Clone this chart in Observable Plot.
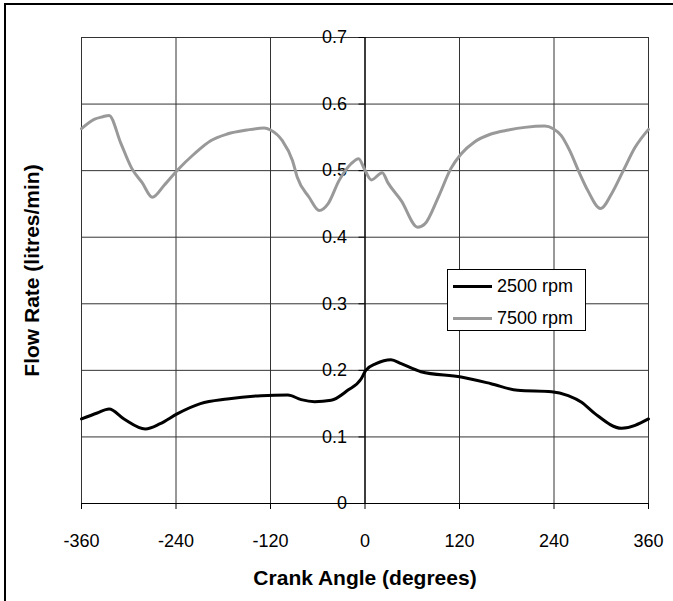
<!DOCTYPE html>
<html>
<head>
<meta charset="utf-8">
<script src="https://cdn.jsdelivr.net/npm/d3@7"></script>
<script src="https://cdn.jsdelivr.net/npm/@observablehq/plot@0.6"></script>
<style>
  html, body { margin: 0; padding: 0; background: #fff; }
  #wrap { position: relative; width: 673px; height: 601px; font-family: "Liberation Sans", Arial, sans-serif; }
  #border { position: absolute; left: 4px; top: 3px; width: 669px; height: 598px; border-top: 2px solid #000; border-left: 2px solid #000; box-sizing: border-box; pointer-events: none; }
  #legend { position: absolute; left: 447px; top: 269px; width: 139px; height: 62px; border: 1px solid #000; box-sizing: border-box; background: #fff; }
  #legend .row { position: absolute; left: 5px; height: 20px; display: flex; align-items: center; font-size: 18px; color: #000; white-space: nowrap; }
  #legend .sw { width: 39px; height: 3px; margin-right: 5px; }
</style>
</head>
<body>
<div id="wrap"><div id="border"></div></div>
<script>
// Data
const seriesNames = ["2500 rpm", "7500 rpm"];
const seriesColors = ["#000000", "#999999"];
const xTicks = [-360, -240, -120, 0, 120, 240, 360];
const yTicks = [0, 0.1, 0.2, 0.3, 0.4, 0.5, 0.6, 0.7];
const yTickLabels = ["0", "0.1", "0.2", "0.3", "0.4", "0.5", "0.6", "0.7"];

const angle2500 = [-360, -340, -325, -306, -279, -260, -238, -209, -175, -132, -98, -81, -64, -43, -22, -5, 1, 14, 33, 46, 71, 122, 160, 194, 237, 258, 275, 292, 326, 360];
const flow2500  = [0.127, 0.136, 0.142, 0.127, 0.112, 0.120, 0.135, 0.150, 0.157, 0.162, 0.163, 0.156, 0.153, 0.155, 0.170, 0.187, 0.200, 0.210, 0.216, 0.210, 0.198, 0.190, 0.180, 0.170, 0.168, 0.162, 0.152, 0.135, 0.113, 0.127];

const angle7500 = [-360, -344, -333, -325, -310, -296, -283, -270, -255, -238, -217, -196, -175, -150, -128, -120, -105, -92, -86, -71, -58, -47, -33, -18, -8, -1, 8, 22, 29, 46, 67, 76, 93, 109, 122, 139, 160, 182, 203, 228, 239, 249, 260, 271, 283, 299, 313, 328, 343, 360];
const flow7500  = [0.563, 0.577, 0.581, 0.583, 0.541, 0.503, 0.482, 0.460, 0.478, 0.501, 0.525, 0.545, 0.555, 0.561, 0.564, 0.561, 0.545, 0.515, 0.490, 0.460, 0.440, 0.450, 0.485, 0.510, 0.518, 0.503, 0.486, 0.497, 0.482, 0.455, 0.415, 0.420, 0.460, 0.503, 0.525, 0.543, 0.555, 0.561, 0.565, 0.567, 0.563, 0.553, 0.530, 0.500, 0.470, 0.443, 0.465, 0.500, 0.535, 0.562];

const d2500 = angle2500.map((a, i) => ({angle: a, flow: flow2500[i]}));
const d7500 = angle7500.map((a, i) => ({angle: a, flow: flow7500[i]}));

const chart = Plot.plot({
  width: 673,
  height: 601,
  marginLeft: 81,
  marginRight: 25,
  marginTop: 37,
  marginBottom: 98,
  style: { fontFamily: "Liberation Sans, Arial, sans-serif", background: "transparent", overflow: "visible" },
  x: { domain: [-360, 360], axis: null },
  y: { domain: [0, 0.7], axis: null },
  marks: [
    Plot.ruleX(xTicks, { stroke: "#333", strokeWidth: 1 }),
    Plot.ruleY(yTicks, { stroke: "#333", strokeWidth: 1 }),
    // y axis at x = 0
    Plot.ruleX([0], { stroke: "#000", strokeWidth: 1.2 }),
    Plot.ruleY(yTicks, { x1: 0, x2: 0, insetLeft: -6, stroke: "#000", strokeWidth: 1 }),
    Plot.text(yTicks, { x: 0, y: d => d, text: (d, i) => yTickLabels[i], textAnchor: "end", lineAnchor: "middle", dx: -18, fontSize: 18, fill: "#000" }),
    // x axis at y = 0
    Plot.ruleY([0], { stroke: "#000", strokeWidth: 1.2 }),
    Plot.ruleX(xTicks, { y1: 0, y2: 0, insetBottom: -6, stroke: "#000", strokeWidth: 1 }),
    Plot.text(xTicks, { x: d => d, frameAnchor: "bottom", textAnchor: "middle", lineAnchor: "middle", dy: 38, text: d => String(d), fontSize: 18, fill: "#000" }),
    // series
    Plot.line(d7500, { x: "angle", y: "flow", stroke: seriesColors[1], strokeWidth: 3, curve: "monotone-x" }),
    Plot.line(d2500, { x: "angle", y: "flow", stroke: seriesColors[0], strokeWidth: 3, curve: "monotone-x" }),
    // titles
    Plot.text(["Crank Angle (degrees)"], { frameAnchor: "bottom", textAnchor: "middle", lineAnchor: "middle", dy: 75, fontSize: 21, fontWeight: "bold", fill: "#000" }),
    Plot.text(["Flow Rate (litres/min)"], { frameAnchor: "left", textAnchor: "middle", lineAnchor: "middle", dx: -49, rotate: -90, fontSize: 21, fontWeight: "bold", fill: "#000" })
  ]
});

const wrap = document.getElementById("wrap");
wrap.insertBefore(chart, wrap.firstChild);

const legend = document.createElement("div");
legend.id = "legend";
seriesNames.forEach((name, i) => {
  const row = document.createElement("div");
  row.className = "row";
  row.style.top = (i === 0 ? 6 : 38) + "px";
  const sw = document.createElement("div");
  sw.className = "sw";
  sw.style.background = seriesColors[i];
  const t = document.createElement("span");
  t.textContent = name;
  row.appendChild(sw);
  row.appendChild(t);
  legend.appendChild(row);
});
wrap.appendChild(legend);
</script>
</body>
</html>
